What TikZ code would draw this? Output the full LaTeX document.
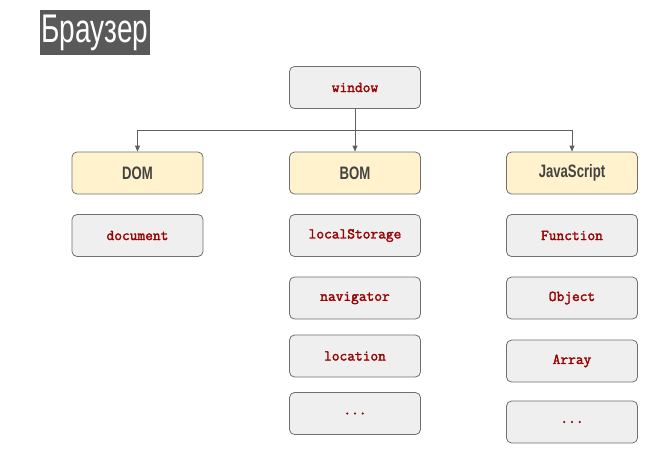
\documentclass[tikz,border=0pt]{standalone}
\usepackage{fontspec}
\usetikzlibrary{arrows.meta}
\newfontfamily\headfont[FakeStretch=0.73]{Liberation Sans}
\newfontfamily\titlefont[FakeStretch=0.70]{Liberation Sans}
\newfontfamily\codefont[FakeBold=2]{Latin Modern Mono}
\definecolor{titlefill}{HTML}{595959}
\definecolor{itemfill}{HTML}{EFEFEF}
\definecolor{headfill}{HTML}{FFF2CC}
\definecolor{boxline}{HTML}{6F6F6F}
\definecolor{connline}{HTML}{5F5F5F}
\definecolor{codered}{HTML}{990000}
\definecolor{headtext}{HTML}{434343}
\begin{document}
\begin{tikzpicture}[x=1pt,y=-1pt,
  box/.style={draw=boxline,line width=.8pt,rounded corners=5pt,minimum width=131pt,minimum height=42pt,inner sep=0pt},
  itembox/.style={box,fill=itemfill,text=codered,font=\codefont\fontsize{15}{17}\selectfont},
  headbox/.style={box,fill=headfill,text=headtext,font=\headfont\bfseries\fontsize{18}{20}\selectfont},
  conn/.style={draw=connline,line width=.8pt,-{Triangle[length=6pt,width=5pt]}}]
\useasboundingbox (0,0) rectangle (672,448);
\node[fill=titlefill,text=white,font=\titlefont\fontsize{40}{42}\selectfont,minimum width=110pt,minimum height=45pt,inner sep=0pt] (title) at (95,32.5) {Браузер};
\node[itembox] (window) at (355,87.5) {window};
\node[headbox] (dom) at (137.5,173) {DOM};
\node[headbox] (bom) at (355,173) {BOM};
\node[headbox] (js) at (572,173) {JavaScript};
\node[itembox] (document) at (137.5,235.5) {document};
\node[itembox] (localstorage) at (355,235.5) {localStorage};
\node[itembox] (navigator) at (355,298) {navigator};
\node[itembox] (location) at (355,356) {location};
\node[itembox] (bommore) at (355,413.5) {...};
\node[itembox] (function) at (572,235.5) {Function};
\node[itembox] (object) at (572,298) {Object};
\node[itembox] (array) at (572,361) {Array};
\node[itembox] (jsmore) at (572,422) {...};
\coordinate (split) at (355,130);
\draw[conn] (window) -- (bom);
\draw[conn] (split) -| (dom);
\draw[conn] (split) -| (js);
\end{tikzpicture}
\end{document}
